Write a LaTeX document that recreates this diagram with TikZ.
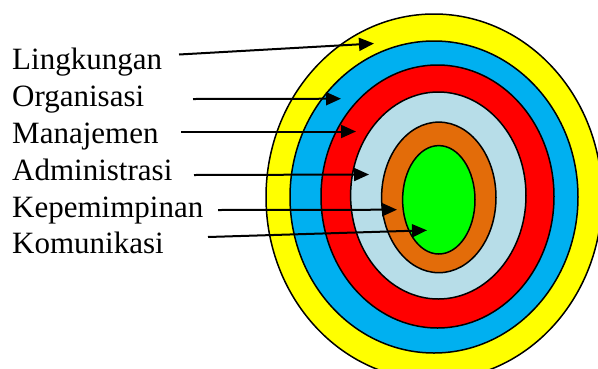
\documentclass[tikz,border=0pt]{standalone}
\usepackage{fontspec}
\setmainfont{Liberation Serif}
\usetikzlibrary{arrows.meta}
\definecolor{cYel}{HTML}{FFFF00}
\definecolor{cBlu}{HTML}{00B0F0}
\definecolor{cRed}{HTML}{FF0000}
\definecolor{cLbl}{HTML}{B7DDE8}
\definecolor{cOra}{HTML}{E36C09}
\definecolor{cGrn}{HTML}{00FF00}
\tikzset{
  ring/.style={draw=black, line width=1.5pt},
  lbl/.style={anchor=base west, inner sep=0pt, font=\fontsize{31}{31}\selectfont},
  ptr/.style={line width=2pt, -{Triangle[length=15pt,width=13pt]}}
}
\begin{document}
\begin{tikzpicture}[x=1pt,y=-1pt]
\useasboundingbox (0,0) rectangle (598,368);
\clip (0,0) rectangle (598,368);
\filldraw[ring, fill=cYel] (434,197) ellipse [x radius=168, y radius=183];
\filldraw[ring, fill=cBlu] (434,197) ellipse [x radius=144, y radius=156];
\filldraw[ring, fill=cRed] (437.5,196.5) ellipse [x radius=116.5, y radius=131.5];
\filldraw[ring, fill=cLbl] (438.3,195.5) ellipse [x radius=87.7, y radius=103.5];
\filldraw[ring, fill=cOra] (438.8,197.4) ellipse [x radius=57.2, y radius=75.3];
\filldraw[ring, fill=cGrn] (438.8,199.8) ellipse [x radius=36.2, y radius=54.2];
\node[lbl] (l1) at (12,69) {Lingkungan};
\node[lbl] (l2) at (12,106) {Organisasi};
\node[lbl] (l3) at (12,143) {Manajemen};
\node[lbl] (l4) at (12,180) {Administrasi};
\node[lbl] (l5) at (12,217) {Kepemimpinan};
\node[lbl] (l6) at (12,253) {Komunikasi};
\coordinate (s1) at (179,54.5);  \coordinate (t1) at (374,43.5);
\coordinate (s2) at (193,99);    \coordinate (t2) at (341,98.7);
\coordinate (s3) at (181,131.5); \coordinate (t3) at (356,131.5);
\coordinate (s4) at (194,175);   \coordinate (t4) at (369,174.5);
\coordinate (s5) at (218,210);   \coordinate (t5) at (397,209.7);
\coordinate (s6) at (208,237);   \coordinate (t6) at (427,230.3);
\draw[ptr] (s1) -- (t1);
\draw[ptr] (s2) -- (t2);
\draw[ptr] (s3) -- (t3);
\draw[ptr] (s4) -- (t4);
\draw[ptr] (s5) -- (t5);
\draw[ptr] (s6) -- (t6);
\end{tikzpicture}
\end{document}
